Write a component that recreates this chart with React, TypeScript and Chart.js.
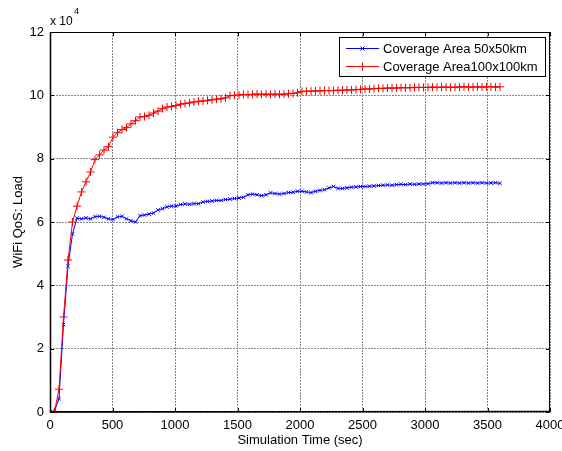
import React, { useEffect, useRef } from "react";
import { Chart, registerables } from "chart.js";
Chart.register(...registerables);

const FONT = "'Liberation Sans', Arial, Helvetica, sans-serif";

// Simulation time (sec)
const times = [
  0, 36, 72, 108, 144, 180, 216, 252, 288, 324, 360, 396, 432, 468, 504, 540, 576, 612, 648, 684,
  720, 756, 792, 828, 864, 900, 936, 972, 1008, 1044, 1080, 1116, 1152, 1188, 1224, 1260, 1296, 1332, 1368, 1404,
  1440, 1476, 1512, 1548, 1584, 1620, 1656, 1692, 1728, 1764, 1800, 1836, 1872, 1908, 1944, 1980, 2016, 2052, 2088, 2124,
  2160, 2196, 2232, 2268, 2304, 2340, 2376, 2412, 2448, 2484, 2520, 2556, 2592, 2628, 2664, 2700, 2736, 2772, 2808, 2844,
  2880, 2916, 2952, 2988, 3024, 3060, 3096, 3132, 3168, 3204, 3240, 3276, 3312, 3348, 3384, 3420, 3456, 3492, 3528, 3564,
  3600,
];

// Load values in units of 10^4
const area50 = [
  0.0, 0.03, 0.42, 2.76, 4.6, 5.63, 6.12, 6.1, 6.13, 6.1,
  6.17, 6.18, 6.15, 6.1, 6.08, 6.16, 6.18, 6.1, 6.04, 6.0,
  6.2, 6.22, 6.25, 6.28, 6.38, 6.42, 6.48, 6.5, 6.5, 6.55,
  6.57, 6.56, 6.58, 6.58, 6.63, 6.65, 6.66, 6.68, 6.68, 6.71,
  6.72, 6.74, 6.76, 6.78, 6.86, 6.88, 6.86, 6.83, 6.86, 6.92,
  6.9, 6.88, 6.9, 6.93, 6.94, 6.97, 6.97, 6.95, 6.93, 6.97,
  7.0, 7.02, 7.08, 7.12, 7.06, 7.06, 7.08, 7.1, 7.11, 7.12,
  7.12, 7.13, 7.14, 7.15, 7.16, 7.17, 7.16, 7.18, 7.19, 7.18,
  7.2, 7.19, 7.2, 7.2, 7.21, 7.24, 7.24, 7.23, 7.24, 7.23,
  7.24, 7.23, 7.24, 7.23, 7.24, 7.23, 7.24, 7.23, 7.23, 7.24,
  7.22,
];

const area100 = [
  0.0, 0.02, 0.72, 3.0, 4.8, 6.0, 6.5, 6.95, 7.27, 7.58,
  7.97, 8.12, 8.27, 8.38, 8.68, 8.82, 8.92, 8.98, 9.1, 9.2,
  9.32, 9.33, 9.37, 9.44, 9.5, 9.58, 9.63, 9.65, 9.68, 9.72,
  9.74, 9.76, 9.79, 9.81, 9.82, 9.84, 9.86, 9.88, 9.89, 9.92,
  9.99, 10.0, 10.01, 10.03, 10.02, 10.03, 10.04, 10.03, 10.04, 10.03,
  10.04, 10.03, 10.04, 10.05, 10.06, 10.08, 10.12, 10.13, 10.13, 10.14,
  10.14, 10.15, 10.15, 10.15, 10.16, 10.16, 10.17, 10.17, 10.18, 10.19,
  10.2, 10.2, 10.21, 10.22, 10.22, 10.23, 10.23, 10.23, 10.24, 10.24,
  10.24, 10.25, 10.25, 10.25, 10.25, 10.26, 10.25, 10.26, 10.26, 10.25,
  10.26, 10.26, 10.27, 10.26, 10.26, 10.27, 10.26, 10.27, 10.27, 10.26,
  10.27,
];

const xTicks = [0, 500, 1000, 1500, 2000, 2500, 3000, 3500, 4000];
const yTicks = [0, 2, 4, 6, 8, 10, 12];
const seriesLabels = ["Coverage Area 50x50km", "Coverage Area100x100km"];
const xTitle = "Simulation Time (sec)";
const yTitle = "WiFi QoS: Load";

export default function App() {
  const ref = useRef<HTMLCanvasElement>(null);

  useEffect(() => {
    document.body.style.margin = "0";
    const overlay = {
      id: "overlay",
      afterDraw(chart: any) {
        const ctx = chart.ctx;
        const { left, right, top, bottom } = chart.chartArea;
        const xs = chart.scales.x;
        const ys = chart.scales.y;
        ctx.save();
        // frame
        ctx.strokeStyle = "#000";
        ctx.lineWidth = 1;
        ctx.strokeRect(left + 0.5, top + 0.5, right - left - 1, bottom - top - 1);
        ctx.lineWidth = 1.5;
        ctx.beginPath();
        ctx.moveTo(left + 0.5, top);
        ctx.lineTo(left + 0.5, bottom);
        ctx.lineTo(right, bottom - 0.5);
        ctx.stroke();
        // inward ticks
        ctx.lineWidth = 1;
        ctx.beginPath();
        const tl = 4;
        xTicks.forEach((v) => {
          const px = Math.round(xs.getPixelForValue(v)) + 0.5;
          ctx.moveTo(px, bottom);
          ctx.lineTo(px, bottom - tl);
          ctx.moveTo(px, top);
          ctx.lineTo(px, top + tl);
        });
        yTicks.forEach((v) => {
          const py = Math.round(ys.getPixelForValue(v)) + 0.5;
          ctx.moveTo(left, py);
          ctx.lineTo(left + tl, py);
          ctx.moveTo(right, py);
          ctx.lineTo(right - tl, py);
        });
        ctx.stroke();
        // exponent label
        ctx.fillStyle = "#000";
        ctx.textAlign = "left";
        ctx.textBaseline = "alphabetic";
        ctx.font = `12px ${FONT}`;
        ctx.fillText("x 10", left, 25);
        ctx.font = `9px ${FONT}`;
        ctx.fillText("4", left + 24, 14);
        // axis titles
        ctx.font = `13px ${FONT}`;
        ctx.textAlign = "center";
        ctx.textBaseline = "middle";
        ctx.fillText(xTitle, (left + right) / 2, 440);
        ctx.save();
        ctx.translate(18, (top + bottom) / 2);
        ctx.rotate(-Math.PI / 2);
        ctx.fillText(yTitle, 0, 0);
        ctx.restore();
        // legend
        const lx0 = 339, ly0 = 37, lx1 = 546, ly1 = 77;
        ctx.fillStyle = "#fff";
        ctx.fillRect(lx0, ly0, lx1 - lx0, ly1 - ly0);
        ctx.strokeStyle = "#000";
        ctx.lineWidth = 1;
        ctx.strokeRect(lx0 + 0.5, ly0 + 0.5, lx1 - lx0 - 1, ly1 - ly0 - 1);
        const rows = [48, 66];
        const colors = ["#0000ff", "#ff0000"];
        rows.forEach((ry, i) => {
          ctx.strokeStyle = colors[i];
          ctx.lineWidth = 1;
          ctx.beginPath();
          ctx.moveTo(346, ry + 0.5);
          ctx.lineTo(379, ry + 0.5);
          ctx.stroke();
          ctx.beginPath();
          if (i === 0) {
            const r = 2;
            ctx.moveTo(362.5 - r, ry + 0.5 - r);
            ctx.lineTo(362.5 + r, ry + 0.5 + r);
            ctx.moveTo(362.5 + r, ry + 0.5 - r);
            ctx.lineTo(362.5 - r, ry + 0.5 + r);
          } else {
            const r = 4;
            ctx.moveTo(362.5, ry + 0.5 - r);
            ctx.lineTo(362.5, ry + 0.5 + r);
          }
          ctx.stroke();
          ctx.fillStyle = "#000";
          ctx.font = `13px ${FONT}`;
          ctx.textAlign = "left";
          ctx.textBaseline = "middle";
          ctx.fillText(seriesLabels[i], 383, ry + 1);
        });
        ctx.restore();
      },
    };

    const chart = new Chart(ref.current as HTMLCanvasElement, {
      type: "line",
      data: {
        datasets: [
          {
            label: seriesLabels[0],
            data: times.map((t, i) => ({ x: t, y: area50[i] })),
            borderColor: "#0000ff",
            backgroundColor: "#0000ff",
            borderWidth: 1,
            pointStyle: "crossRot",
            pointRadius: 2.5,
            pointBorderColor: "#0000ff",
            pointBorderWidth: 1,
            tension: 0,
            order: 2,
          },
          {
            label: seriesLabels[1],
            data: times.map((t, i) => ({ x: t, y: area100[i] })),
            borderColor: "#ff0000",
            backgroundColor: "#ff0000",
            borderWidth: 1,
            pointStyle: "cross",
            pointRadius: 4,
            pointBorderColor: "#ff0000",
            pointBorderWidth: 1,
            tension: 0,
            order: 1,
          },
        ],
      },
      options: {
        responsive: false,
        animation: false,
        devicePixelRatio: 1,
        layout: { padding: { left: 0, right: 12, top: 32, bottom: 0 } },
        plugins: { legend: { display: false }, tooltip: { enabled: false } },
        scales: {
          x: {
            type: "linear",
            min: 0,
            max: 4000,
            afterBuildTicks: (s: any) => {
              s.ticks = xTicks.map((v) => ({ value: v }));
            },
            ticks: {
              autoSkip: false,
              maxRotation: 0,
              padding: 6,
              color: "#000",
              font: { family: FONT, size: 13 },
              callback: (v: any) => String(v),
            },
            grid: { color: "#888", drawTicks: false, lineWidth: 1 },
            border: { display: false, dash: [2, 1] },
            afterFit: (s: any) => {
              s.height = 39;
              s.paddingLeft = 0;
              s.paddingRight = 0;
            },
          },
          y: {
            type: "linear",
            min: 0,
            max: 12,
            afterBuildTicks: (s: any) => {
              s.ticks = yTicks.map((v) => ({ value: v }));
            },
            ticks: {
              padding: 6,
              color: "#000",
              font: { family: FONT, size: 13 },
              callback: (v: any) => String(v),
            },
            grid: { color: "#888", drawTicks: false, lineWidth: 1 },
            border: { display: false, dash: [2, 1] },
            afterFit: (s: any) => {
              s.width = 50;
              s.paddingTop = 0;
              s.paddingBottom = 0;
            },
          },
        },
      },
      plugins: [overlay],
    } as any);
    return () => chart.destroy();
  }, []);

  return <canvas ref={ref} width={562} height={451} style={{ display: "block" }} />;
}
